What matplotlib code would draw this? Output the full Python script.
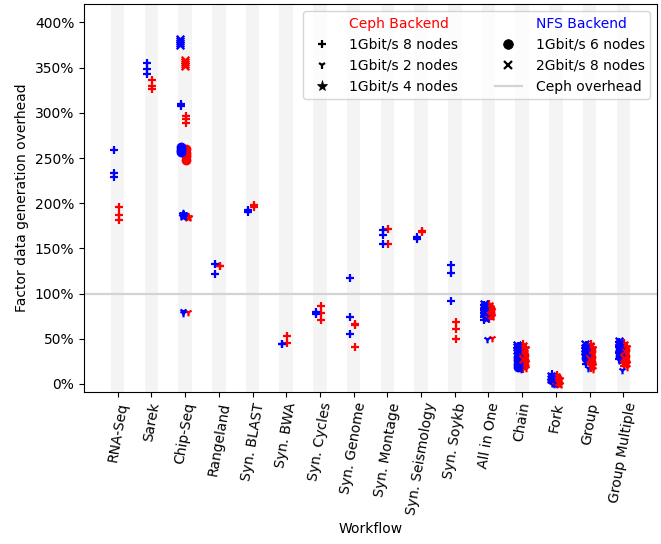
import matplotlib
matplotlib.use("Agg")
import matplotlib.pyplot as plt
from matplotlib.lines import Line2D
from matplotlib.ticker import PercentFormatter

categories = [
    "RNA-Seq", "Sarek", "Chip-Seq", "Rangeland", "Syn. BLAST", "Syn. BWA",
    "Syn. Cycles", "Syn. Genome", "Syn. Montage", "Syn. Seismology",
    "Syn. Soykb", "All in One", "Chain", "Fork", "Group", "Group Multiple",
]

# overhead factors (1.0 == 100 %), one list per workflow
ceph_1g8n = [
    [1.96, 1.87, 1.81], [3.36, 3.30, 3.26], [2.97, 2.93, 2.89], [1.31, 1.30],
    [1.98, 1.96], [0.53, 0.45], [0.86, 0.78, 0.71], [0.66, 0.65, 0.41],
    [1.72, 1.55], [1.69, 1.68], [0.69, 0.61, 0.50],
    [0.88, 0.84, 0.80, 0.76, 0.72], [0.44, 0.38, 0.30, 0.22, 0.17],
    [0.10, 0.06, 0.02], [0.44, 0.38, 0.31, 0.24, 0.18],
    [0.45, 0.38, 0.32, 0.26, 0.20],
]
ceph_1g2n = [[], [], [0.80], [], [], [], [], [], [], [], [],
             [0.51], [0.18], [0.01], [0.17], [0.19]]
ceph_1g4n = [[], [], [1.85], [], [], [], [], [], [], [], [],
             [0.82, 0.75], [0.40, 0.24], [0.05, 0.00], [0.40, 0.21], [0.41, 0.23]]
ceph_1g6n = [[], [], [2.60, 2.56, 2.52, 2.48], [], [], [], [], [], [], [], [],
             [0.84, 0.80, 0.77], [0.32, 0.26, 0.21], [0.07, 0.03],
             [0.36, 0.30, 0.24], [0.38, 0.31, 0.25]]
ceph_2g8n = [[], [], [3.58, 3.56, 3.54, 3.52], [], [], [], [], [], [], [], [],
             [0.86, 0.82, 0.78], [0.42, 0.36, 0.28], [0.08, 0.04],
             [0.42, 0.35, 0.28], [0.43, 0.36, 0.29]]

nfs_1g8n = [
    [2.59, 2.33, 2.29], [3.55, 3.49, 3.43], [3.10, 3.07], [1.33, 1.22],
    [1.92, 1.90], [0.44, 0.44], [0.80, 0.77], [1.17, 0.74, 0.55],
    [1.70, 1.65, 1.55], [1.63, 1.60], [1.32, 1.23, 0.92],
    [0.87, 0.83, 0.79, 0.74, 0.71], [0.42, 0.34, 0.26, 0.18],
    [0.11, 0.07, 0.03], [0.43, 0.37, 0.30, 0.22],
    [0.47, 0.41, 0.34, 0.28],
]
nfs_1g2n = [[], [], [0.81, 0.79], [], [], [], [], [], [], [], [],
            [0.50], [0.17], [0.00], [0.18], [0.16]]
nfs_1g4n = [[], [], [1.88, 1.86], [], [], [], [], [], [], [], [],
            [0.80, 0.73], [0.36, 0.24], [0.04, 0.01], [0.32, 0.25], [0.34, 0.26]]
nfs_1g6n = [[], [], [2.62, 2.59, 2.57], [], [], [], [], [], [], [], [],
            [0.84, 0.81, 0.78], [0.30, 0.26, 0.22, 0.19], [0.06, 0.04],
            [0.36, 0.33, 0.29], [0.38, 0.35, 0.31]]
nfs_2g8n = [[], [], [3.82, 3.80, 3.77, 3.75], [], [], [], [], [], [], [], [],
            [0.88, 0.85, 0.80], [0.43, 0.41, 0.38], [0.09, 0.05],
            [0.44, 0.40, 0.36], [0.48, 0.44, 0.40]]

configs = [
    ("+", "1Gbit/s 8 nodes", ceph_1g8n, nfs_1g8n, 0.0),
    ("1", "1Gbit/s 2 nodes", ceph_1g2n, nfs_1g2n, 0.07),
    ("*", "1Gbit/s 4 nodes", ceph_1g4n, nfs_1g4n, 0.05),
    ("o", "1Gbit/s 6 nodes", ceph_1g6n, nfs_1g6n, 0.01),
    ("x", "2Gbit/s 8 nodes", ceph_2g8n, nfs_2g8n, -0.02),
]

fig, ax = plt.subplots(figsize=(6.61, 5.44), dpi=100)
fig.subplots_adjust(left=0.127, right=0.994, top=0.992, bottom=0.28)

for i in range(len(categories)):
    ax.axvspan(i - 0.2, i + 0.2, color="#f4f4f4", zorder=0, lw=0)

ax.axhline(1.0, color="lightgray", lw=1.6, zorder=1)

for marker, label, ceph, nfs, dx in configs:
    for values, color, base in ((ceph, "red", 0.03), (nfs, "blue", -0.12)):
        for i, vals in enumerate(values):
            if not vals:
                continue
            ax.scatter([i + base + dx] * len(vals), vals, marker=marker,
                       color=color, s=30, linewidths=1.6, zorder=3)

ax.set_xticks(range(len(categories)))
ax.set_xticklabels(categories, rotation=80)
ax.set_xlim(-1, 16)
ax.set_ylim(-0.085, 4.2)
ax.yaxis.set_major_formatter(PercentFormatter(1.0, decimals=0))
ax.set_xlabel("Workflow")
ax.set_ylabel("Factor data generation overhead")

blank = Line2D([], [], linestyle="none")
def mk(m, mew=1.6, ms=6):
    return Line2D([], [], linestyle="none", marker=m, color="black",
                  markersize=ms, markeredgewidth=mew)

handles = [blank, mk("+"), mk("1"), mk("*", 0.5, 8),
           blank, mk("o", 0.5, 7), mk("x"),
           Line2D([], [], color="lightgray", lw=1.6)]
labels = ["Ceph Backend", "1Gbit/s 8 nodes", "1Gbit/s 2 nodes", "1Gbit/s 4 nodes",
          "NFS Backend", "1Gbit/s 6 nodes", "2Gbit/s 8 nodes", "Ceph overhead"]
leg = ax.legend(handles, labels, ncol=2, loc="upper right",
                columnspacing=2.6, handletextpad=0.95)
leg.get_texts()[0].set_color("red")
leg.get_texts()[4].set_color("blue")

fig.savefig("out.png")
